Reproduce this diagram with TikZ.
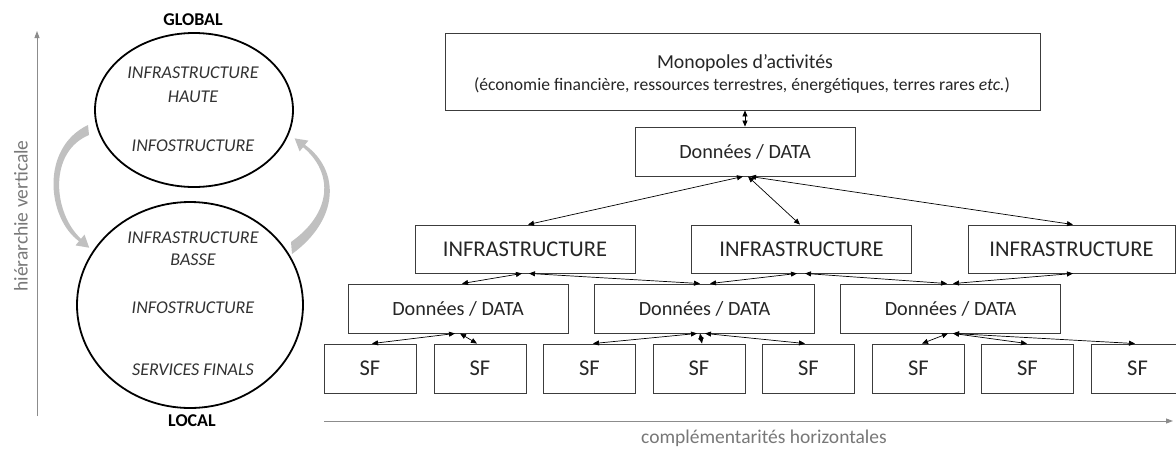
\documentclass[tikz,border=0pt]{standalone}
\usepackage{fontspec}
\setmainfont{Carlito}
\usetikzlibrary{arrows.meta,shapes.geometric}
\definecolor{boxline}{RGB}{60,60,60}
\definecolor{txt}{RGB}{38,38,38}
\definecolor{itxt}{RGB}{50,50,50}
\definecolor{axisgray}{RGB}{140,140,140}
\definecolor{axistxt}{RGB}{120,120,120}
\definecolor{arrowgray}{RGB}{192,192,192}
\begin{document}
\begin{tikzpicture}[x=1pt,y=-1pt,
  box/.style={draw=boxline, line width=0.9pt, inner sep=0pt, text=txt},
  monobox/.style={box, minimum width=595pt, minimum height=77pt},
  databox/.style={box, minimum width=220pt, minimum height=49pt, font=\fontsize{20.2}{24}\selectfont},
  infrabox/.style={box, minimum width=220pt, minimum height=48pt, font=\fontsize{22.5}{26}\selectfont},
  sfbox/.style={box, minimum width=92pt, minimum height=49pt, font=\fontsize{22.5}{26}\selectfont},
  link/.style={line width=0.7pt, draw=black, {Triangle[length=6pt,width=5pt]}-{Triangle[length=6pt,width=5pt]}},
  ell/.style={ellipse, draw=black, line width=1.8pt, inner sep=0pt},
  itl/.style={font=\fontsize{18}{21}\selectfont\itshape, text=itxt, inner sep=0pt},
  lvl/.style={font=\fontsize{18}{21}\selectfont\bfseries, text=black, inner sep=0pt},
  axis/.style={draw=axisgray, line width=0.9pt, -{Triangle[length=7pt,width=5pt]}},
  axislabel/.style={font=\fontsize{19.5}{23}\selectfont, text=axistxt, inner sep=0pt},
  bigarrow/.style={fill=arrowgray, draw=none}
]
\useasboundingbox (0,0) rectangle (1176,448);
\fill[white] (0,0) rectangle (1176,448);
\clip (0,0) rectangle (1176,448);

% ---------- left part ----------
\coordinate (vbot) at (37,416);
\coordinate (vtop) at (37,31);
\draw[axis] (vbot) -- (vtop);
\node[axislabel, rotate=90] (vlab) at (21,216) {hiérarchie verticale};

\node[ell, minimum width=198pt, minimum height=154pt] (ehaut) at (194,110) {};
\node[ell, minimum width=226pt, minimum height=206pt] (ebas) at (190,305) {};

\node[lvl] (global) at (193,20) {GLOBAL};
\node[lvl] (local) at (192,421) {LOCAL};

\node[itl] (t1) at (193,73) {INFRASTRUCTURE};
\node[itl] (t2) at (193,97) {HAUTE};
\node[itl] (t3) at (193,146) {INFOSTRUCTURE};
\node[itl] (t4) at (193,238) {INFRASTRUCTURE};
\node[itl] (t5) at (193,260) {BASSE};
\node[itl] (t6) at (193,308) {INFOSTRUCTURE};
\node[itl] (t7) at (193,370) {SERVICES FINALS};

% gray curved arrows
\fill[bigarrow] (88,125) .. controls (40,148) and (47,218) .. (79,241.2)
  -- (75.5,245.4) -- (89.2,247.7) -- (84.5,234.6) -- (81,238.8)
  .. controls (53,213) and (48,152) .. (89,135) -- cycle;
\fill[bigarrow] (292,254) .. controls (340,219) and (340,170) .. (304.9,144.8)
  -- (308.4,140.6) -- (294.7,138.4) -- (299.6,151.4) -- (303.1,147.2)
  .. controls (334,173) and (332,213) .. (291,242) -- cycle;

% ---------- right part ----------
\node[monobox] (mono) at (742.5,71.5) {};
\node[text=txt, inner sep=0pt, font=\fontsize{19.8}{23}\selectfont] (monot1) at (745,63) {Monopoles d’activités};
\node[text=txt, inner sep=0pt, font=\fontsize{17.6}{21}\selectfont] (monot2) at (742,86) {(économie financière, ressources terrestres, énergétiques, terres rares \textit{etc.})};

\node[databox] (dtop) at (745,151.5) {Données / DATA};

\node[infrabox] (i1) at (525,249) {INFRASTRUCTURE};
\node[infrabox] (i2) at (801.5,249) {INFRASTRUCTURE};
\node[infrabox, minimum width=207pt] (i3) at (1071.5,249) {INFRASTRUCTURE};

\node[databox] (d1) at (458,308.5) {Données / DATA};
\node[databox] (d2) at (704.5,308.5) {Données / DATA};
\node[databox] (d3) at (950.5,308.5) {Données / DATA};

\node[sfbox] (s1) at (370,368.5) {SF};
\node[sfbox] (s2) at (480,368.5) {SF};
\node[sfbox] (s3) at (589.5,368.5) {SF};
\node[sfbox] (s4) at (699,368.5) {SF};
\node[sfbox] (s5) at (808.5,368.5) {SF};
\node[sfbox] (s6) at (918.5,368.5) {SF};
\node[sfbox] (s7) at (1027.5,368.5) {SF};
\node[sfbox] (s8) at (1137.5,368.5) {SF};

% connectors
\draw[link] (dtop.north |- mono.south) -- (dtop.north);
\draw[link] ([xshift=-2pt]dtop.south) -- ([xshift=3pt]i1.north);
\draw[link] ([xshift=3pt]dtop.south) -- ([xshift=-1.5pt]i2.north);
\draw[link] ([xshift=5pt]dtop.south) -- ([xshift=1.5pt]i3.north);

\draw[link] ([xshift=-3pt]i1.south) -- ([xshift=4pt]d1.north);
\draw[link] ([xshift=4pt]i1.south) -- ([xshift=-4.5pt]d2.north);
\draw[link] ([xshift=-4.5pt]i2.south) -- ([xshift=5.5pt]d2.north);
\draw[link] ([xshift=3.5pt]i2.south) -- ([xshift=-3.5pt]d3.north);
\draw[link] ([xshift=1.5pt]i3.south) -- ([xshift=2.5pt]d3.north);

\draw[link] ([xshift=-3pt]d1.south) -- ([xshift=2pt]s1.north);
\draw[link] ([xshift=2pt]d1.south) -- ([xshift=-3pt]s2.north);
\draw[link] ([xshift=-7.5pt]d2.south) -- ([xshift=3.5pt]s3.north);
\draw[link] ([xshift=-4.5pt]d2.south) -- ([xshift=3pt]s4.north);
\draw[link] ([xshift=0.5pt]d2.south) -- ([xshift=-3.5pt]s5.north);
\draw[link] ([xshift=-2.5pt]d3.south) -- ([xshift=3.5pt]s6.north);
\draw[link] ([xshift=2.5pt]d3.south) -- ([xshift=-0.5pt]s7.north);
\draw[link] ([xshift=2.5pt]d3.south) -- ([xshift=-2.5pt]s8.north);

% horizontal axis
\coordinate (hleft) at (324,421);
\coordinate (hright) at (1173,421);
\draw[axis] (hleft) -- (hright);
\node[axislabel] (hlab) at (764,438) {complémentarités horizontales};
\end{tikzpicture}
\end{document}
